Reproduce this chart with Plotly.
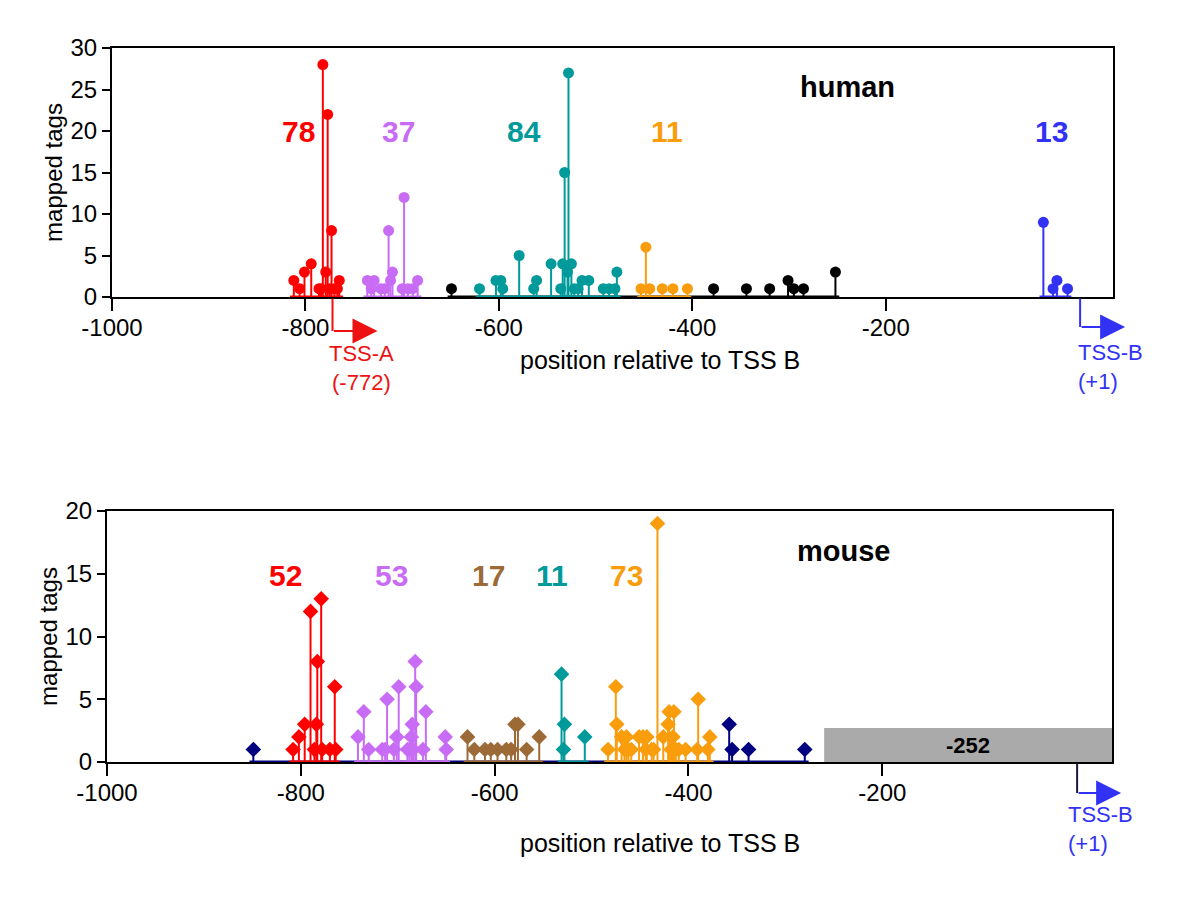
import plotly.graph_objects as go

# ---- human: tag positions (relative to TSS B) and counts per cluster
human_red_x = [-812, -806, -801, -794, -786, -784, -782, -779, -777, -775, -773, -770, -767, -765]
human_red_y = [2, 1, 3, 4, 1, 1, 28, 3, 22, 1, 8, 1, 1, 2]
human_purple_x = [-736, -732, -729, -722, -718, -714, -712, -710, -700, -698, -694, -689, -684]
human_purple_y = [2, 1, 2, 1, 1, 8, 2, 3, 1, 12, 1, 1, 2]
human_teal_x = [-620, -603, -598, -596, -579, -564, -561, -546, -536, -534, -532, -528,
                -529, -525, -522, -518, -514, -507, -492, -486, -480, -478]
human_teal_y = [1, 2, 2, 1, 5, 1, 2, 4, 1, 4, 15, 27, 3, 4, 1, 1, 2, 2, 1, 1, 1, 3]
human_orange_x = [-453, -448, -444, -431, -420, -405]
human_orange_y = [1, 6, 1, 1, 1, 1]
human_black_x = [-649, -378, -344, -320, -301, -295, -285, -252]
human_black_y = [1, 1, 1, 1, 2, 1, 1, 3]
human_blue_x = [-37, -27, -23, -12]
human_blue_y = [9, 1, 2, 1]
human_counts = ["78", "37", "84", "11", "13"]
human_count_x = [-807, -704, -574, -426, -29]

# ---- mouse
mouse_navy_x = [-849, -358, -355, -338, -280]
mouse_navy_y = [1, 3, 1, 1, 1]
mouse_red_x = [-808, -802, -796, -790, -786, -784, -783, -779, -778, -770, -765, -764]
mouse_red_y = [1, 2, 3, 12, 1, 3, 8, 13, 1, 1, 6, 1]
mouse_purple_x = [-741, -735, -730, -716, -713, -711, -704, -701, -699, -690, -688, -686,
                  -685, -684, -682, -681, -674, -671, -651, -650]
mouse_purple_y = [2, 4, 1, 1, 1, 5, 1, 2, 6, 1, 1, 2, 3, 1, 8, 6, 1, 4, 2, 1]
mouse_brown_x = [-628, -621, -610, -604, -597, -588, -583, -579, -576, -567, -554]
mouse_brown_y = [2, 1, 1, 1, 1, 1, 1, 3, 3, 1, 2]
mouse_teal_x = [-531, -529, -528, -507]
mouse_teal_y = [7, 1, 3, 2]
mouse_orange_x = [-483, -475, -474, -469, -466, -464, -462, -459, -451, -447, -444, -443, -438,
                  -436, -432, -426, -421, -420, -418, -416, -415, -413, -410, -403, -391, -390,
                  -380, -378]
mouse_orange_y = [1, 6, 3, 2, 1, 2, 1, 1, 2, 2, 1, 2, 1, 1, 19, 2, 3, 4, 1, 2, 4, 1, 1, 1, 1, 5, 1, 2]
mouse_counts = ["52", "53", "17", "11", "73"]
mouse_count_x = [-816, -706, -606, -541, -464]
gap_start = -260
gap_label = "-252"

tss_a = -772
tss_b = 1

xticks = [-1000, -800, -600, -400, -200]
xtick_text = ["-1000", "-800", "-600", "-400", "-200"]

RED = "#ff0000"
PURPLE = "#c86cf5"
TEAL = "#009a9a"
ORANGE = "#f99d0c"
BLUE = "#3232f5"
NAVY = "#000080"
BROWN = "#9c6a36"
FONT = "Liberation Sans"

W, H = 1200, 913
OFF = 8  # page body margin shifts the whole figure


def px(x):
    return (x - OFF) / W


def py(y):
    return 1 - (y - OFF) / H


X1_DOM = [px(112), px(1113)]
X2_DOM = [px(107), px(1112)]
Y1_DOM = [py(297), py(48)]
Y2_DOM = [py(762), py(511)]
X1_RNG = [-1000, 35]
X2_RNG = [-1000, 37]

fig = go.Figure()


def add_stems(x, y, color, symbol, size, xa, ya):
    # colored segment on the axis under the cluster
    fig.add_trace(go.Scatter(x=[min(x) - 4, max(x) + 4], y=[0, 0], mode="lines",
                             line=dict(color=color, width=3), xaxis=xa, yaxis=ya,
                             hoverinfo="skip", showlegend=False))
    fig.add_trace(go.Scatter(
        x=x, y=y, mode="markers", xaxis=xa, yaxis=ya, showlegend=False, cliponaxis=False,
        marker=dict(color=color, symbol=symbol, size=size, line=dict(width=0)),
        error_y=dict(type="data", symmetric=False, array=[0] * len(y), arrayminus=y,
                     width=0, thickness=2, color=color),
    ))


for xs, ys, c in [(human_black_x, human_black_y, "black"), (human_red_x, human_red_y, RED),
                  (human_purple_x, human_purple_y, PURPLE), (human_teal_x, human_teal_y, TEAL),
                  (human_orange_x, human_orange_y, ORANGE), (human_blue_x, human_blue_y, BLUE)]:
    add_stems(xs, ys, c, "circle", 11, "x", "y")

for xs, ys, c in [(mouse_navy_x, mouse_navy_y, NAVY), (mouse_red_x, mouse_red_y, RED),
                  (mouse_purple_x, mouse_purple_y, PURPLE), (mouse_brown_x, mouse_brown_y, BROWN),
                  (mouse_teal_x, mouse_teal_y, TEAL), (mouse_orange_x, mouse_orange_y, ORANGE)]:
    add_stems(xs, ys, c, "diamond", 12, "x2", "y2")

# gray block in mouse panel
fig.add_shape(type="rect", xref="x2", yref="y2", x0=gap_start, x1=X2_RNG[1], y0=0, y1=2.7,
              fillcolor="#aaaaaa", line=dict(width=0), layer="below")
fig.add_annotation(x=(gap_start + X2_RNG[1]) / 2, y=1.35, xref="x2", yref="y2",
                   text="<b>%s</b>" % gap_label, showarrow=False,
                   font=dict(family=FONT, size=22, color="black"))

human_cols = [RED, PURPLE, TEAL, ORANGE, BLUE]
for t, xv, c in zip(human_counts, human_count_x, human_cols):
    fig.add_annotation(x=xv, y=19.9, xref="x", yref="y", text="<b>%s</b>" % t, showarrow=False,
                       font=dict(family=FONT, size=30, color=c))
mouse_cols = [RED, PURPLE, BROWN, TEAL, ORANGE]
for t, xv, c in zip(mouse_counts, mouse_count_x, mouse_cols):
    fig.add_annotation(x=xv, y=14.9, xref="x2", yref="y2", text="<b>%s</b>" % t, showarrow=False,
                       font=dict(family=FONT, size=30, color=c))

fig.add_annotation(x=-240, y=25.3, xref="x", yref="y", text="<b>human</b>", showarrow=False,
                   font=dict(family=FONT, size=29, color="black"))
fig.add_annotation(x=-240, y=16.8, xref="x2", yref="y2", text="<b>mouse</b>", showarrow=False,
                   font=dict(family=FONT, size=29, color="black"))

# x axis titles (centred right of the axis middle, as in the original)
for yy in [360, 843]:
    fig.add_annotation(x=px(660), y=py(yy), xref="paper", yref="paper", showarrow=False,
                       text="position relative to TSS B", xanchor="center", yanchor="middle",
                       font=dict(family=FONT, size=25, color="black"))


def paper_x(v, dom, rng):
    return dom[0] + (v - rng[0]) / (rng[1] - rng[0]) * (dom[1] - dom[0])


def tss_arrow(v, dom, rng, base, drop, length, color, stem_color, label, dx_text, dy_text, align):
    xp = paper_x(v, dom, rng)
    yb = base - drop / H
    # vertical drop from the axis
    fig.add_annotation(x=xp, y=yb, xref="paper", yref="paper", ax=0, ay=-drop, text="",
                       showarrow=True, arrowhead=0, arrowwidth=2, arrowcolor=stem_color)
    # horizontal arrow
    fig.add_annotation(x=xp + length / W, y=yb, xref="paper", yref="paper", ax=-length, ay=0,
                       text="", showarrow=True, arrowhead=2, arrowsize=2.5, arrowwidth=2,
                       arrowcolor=color)
    fig.add_annotation(x=xp + dx_text / W, y=yb - dy_text / H, xref="paper", yref="paper",
                       text=label, showarrow=False, align=align, yanchor="middle",
                       xanchor="left" if align == "left" else "center",
                       font=dict(family=FONT, size=22, color=color))


tss_arrow(tss_a, X1_DOM, X1_RNG, Y1_DOM[0], 34, 45, "#ee1111", "#ee1111", "TSS-A<br>(-772)", 29, 37, "center")
tss_arrow(tss_b, X1_DOM, X1_RNG, Y1_DOM[0], 30, 45, BLUE, BLUE, "TSS-B<br>(+1)", -4, 40, "left")
tss_arrow(tss_b, X2_DOM, X2_RNG, Y2_DOM[0], 31, 44, BLUE, "#1a1a40", "TSS-B<br>(+1)", -11, 36, "left")

axis_common = dict(showline=True, linecolor="black", linewidth=2, mirror=True, showgrid=False,
                   zeroline=False, ticks="outside", tickcolor="black", tickwidth=2, automargin=False,
                   tickfont=dict(family=FONT, size=24, color="black"), layer="below traces")
title_font = dict(family=FONT, size=24, color="black")

fig.update_layout(
    width=W, height=H, margin=dict(l=0, r=0, t=0, b=0),
    paper_bgcolor="white", plot_bgcolor="white", showlegend=False,
    xaxis=dict(domain=X1_DOM, range=X1_RNG, anchor="y", tickvals=xticks, ticktext=xtick_text,
               ticklen=12, ticklabelstandoff=-4, **axis_common),
    yaxis=dict(domain=Y1_DOM, range=[0, 30], anchor="x", dtick=5, ticklen=8,
               title=dict(text="mapped tags", standoff=1, font=title_font), **axis_common),
    xaxis2=dict(domain=X2_DOM, range=X2_RNG, anchor="y2", tickvals=xticks, ticktext=xtick_text,
                ticklen=12, ticklabelstandoff=-4, **axis_common),
    yaxis2=dict(domain=Y2_DOM, range=[0, 20], anchor="x2", dtick=5, ticklen=8,
                title=dict(text="mapped tags", standoff=1, font=title_font), **axis_common),
)

fig.write_html("out.html")
